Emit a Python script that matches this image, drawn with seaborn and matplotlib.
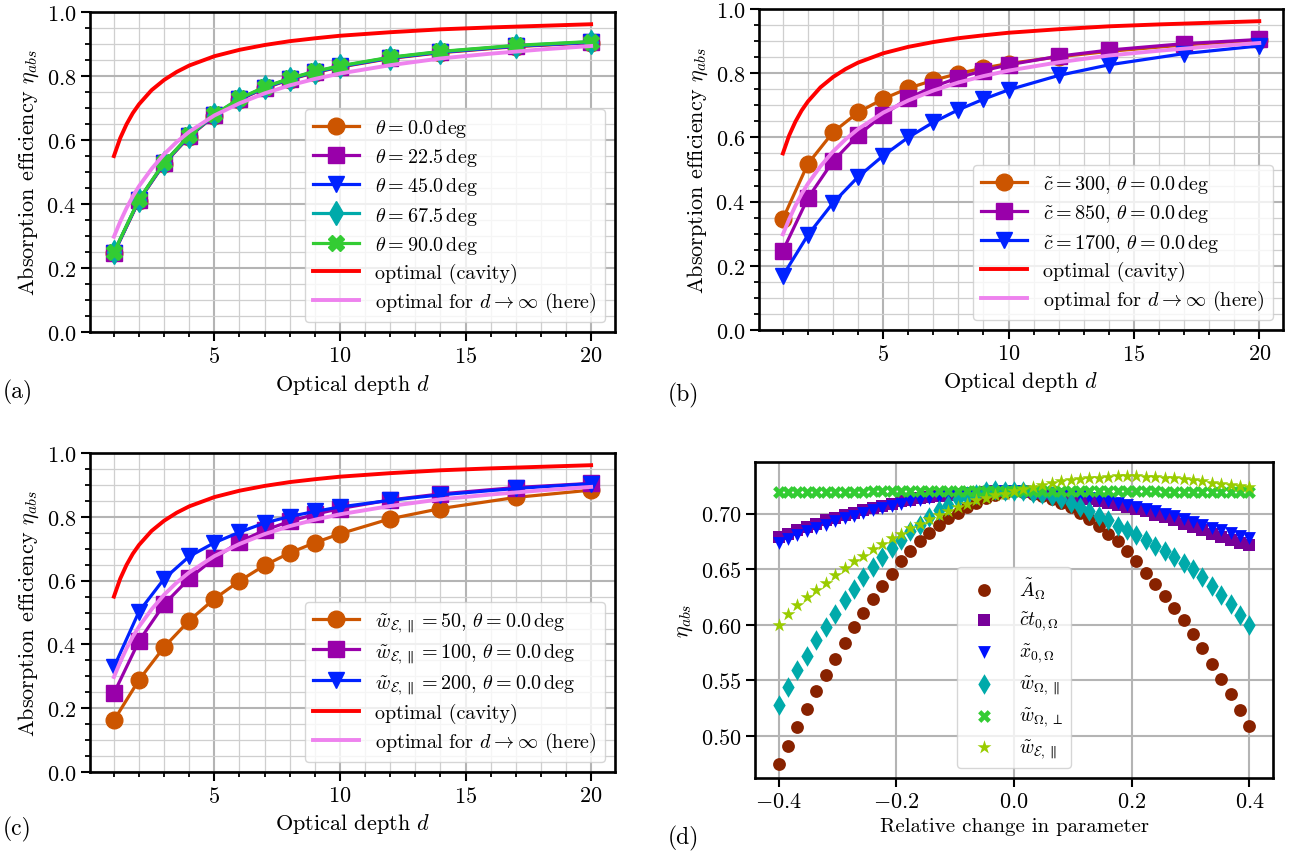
import numpy as np
import pandas as pd
import matplotlib
matplotlib.use('Agg')
import matplotlib.pyplot as plt
import seaborn as sns
from matplotlib.ticker import MultipleLocator


# optical depths of the simulated points (panels a-c)
d_pts = [1, 2, 3, 4, 5, 6, 7, 8, 9, 10, 12, 14, 17, 20]

# (a) different angles
eta_theta_0 = [0.246, 0.411, 0.526, 0.611, 0.676, 0.726, 0.762, 0.789, 0.811, 0.828, 0.855, 0.873, 0.892, 0.904]
eta_theta_22 = [0.247, 0.412, 0.527, 0.612, 0.677, 0.727, 0.763, 0.790, 0.812, 0.829, 0.856, 0.874, 0.893, 0.905]
eta_theta_45 = [0.248, 0.413, 0.528, 0.613, 0.678, 0.728, 0.764, 0.791, 0.813, 0.830, 0.857, 0.875, 0.894, 0.906]
eta_theta_67 = [0.249, 0.414, 0.529, 0.614, 0.679, 0.729, 0.765, 0.792, 0.814, 0.831, 0.858, 0.876, 0.895, 0.907]
eta_theta_90 = [0.250, 0.415, 0.530, 0.615, 0.680, 0.730, 0.766, 0.793, 0.815, 0.832, 0.859, 0.877, 0.896, 0.908]

# (b) different c
eta_c300 = [0.346, 0.518, 0.616, 0.678, 0.720, 0.753, 0.778, 0.799, 0.816, 0.830, 0.851, 0.868, 0.888, 0.903]
eta_c850 = [0.247, 0.411, 0.526, 0.607, 0.670, 0.722, 0.758, 0.786, 0.808, 0.826, 0.853, 0.872, 0.892, 0.905]
eta_c1700 = [0.169, 0.296, 0.396, 0.477, 0.543, 0.600, 0.647, 0.686, 0.719, 0.748, 0.793, 0.826, 0.861, 0.885]

# (c) different w_E
eta_w50 = [0.162, 0.289, 0.392, 0.475, 0.543, 0.599, 0.648, 0.687, 0.719, 0.747, 0.794, 0.826, 0.861, 0.884]
eta_w100 = [0.247, 0.411, 0.526, 0.607, 0.670, 0.722, 0.758, 0.786, 0.808, 0.826, 0.853, 0.872, 0.892, 0.905]
eta_w200 = [0.329, 0.503, 0.606, 0.676, 0.719, 0.752, 0.781, 0.801, 0.817, 0.831, 0.852, 0.869, 0.889, 0.904]

# optimal curves
d_fine = [1, 1.25, 1.5, 1.75, 2, 2.5, 3, 3.5, 4, 5, 6, 7, 8, 9, 10, 12, 14, 16, 18, 20]
eta_cavity = [0.550, 0.606, 0.649, 0.684, 0.712, 0.756, 0.788, 0.813, 0.833, 0.862, 0.882, 0.897,
              0.909, 0.918, 0.926, 0.937, 0.946, 0.952, 0.957, 0.962]
eta_inf = [0.298, 0.345, 0.387, 0.424, 0.456, 0.510, 0.556, 0.594, 0.626, 0.677, 0.715, 0.746,
           0.771, 0.791, 0.808, 0.834, 0.855, 0.870, 0.883, 0.894]

# (d) sensitivity to relative change of parameters
rel_change = [-0.400, -0.384, -0.368, -0.352, -0.336, -0.320, -0.304, -0.288, -0.272, -0.256,
              -0.240, -0.224, -0.208, -0.192, -0.176, -0.160, -0.144, -0.128, -0.112, -0.096,
              -0.080, -0.064, -0.048, -0.032, -0.016, 0.000, 0.016, 0.032, 0.048, 0.064,
              0.080, 0.096, 0.112, 0.128, 0.144, 0.160, 0.176, 0.192, 0.208, 0.224,
              0.240, 0.256, 0.272, 0.288, 0.304, 0.320, 0.336, 0.352, 0.368, 0.384, 0.400]
eta_A = [0.475, 0.491, 0.508, 0.524, 0.540, 0.555, 0.569, 0.584, 0.598, 0.611,
         0.623, 0.635, 0.646, 0.657, 0.666, 0.675, 0.683, 0.690, 0.696, 0.701,
         0.706, 0.710, 0.714, 0.717, 0.719, 0.720, 0.7195, 0.718, 0.716, 0.713,
         0.710, 0.706, 0.701, 0.695, 0.689, 0.682, 0.675, 0.666, 0.657, 0.647,
         0.637, 0.626, 0.615, 0.604, 0.592, 0.579, 0.565, 0.551, 0.538, 0.523, 0.509]
eta_ct = [0.679, 0.682, 0.685, 0.688, 0.691, 0.694, 0.696, 0.699, 0.701, 0.703,
          0.705, 0.707, 0.709, 0.711, 0.712, 0.714, 0.715, 0.716, 0.717, 0.718,
          0.7185, 0.719, 0.7195, 0.720, 0.720, 0.720, 0.720, 0.7195, 0.719, 0.718,
          0.717, 0.716, 0.7145, 0.713, 0.7115, 0.710, 0.708, 0.706, 0.704, 0.702,
          0.699, 0.697, 0.694, 0.691, 0.688, 0.685, 0.682, 0.679, 0.676, 0.674, 0.672]
eta_x0 = [0.674, 0.677, 0.681, 0.684, 0.687, 0.690, 0.693, 0.696, 0.698, 0.701,
          0.703, 0.705, 0.707, 0.709, 0.711, 0.712, 0.714, 0.715, 0.716, 0.717,
          0.718, 0.7185, 0.719, 0.7195, 0.720, 0.720, 0.720, 0.7195, 0.719, 0.7185,
          0.718, 0.717, 0.716, 0.7145, 0.713, 0.7115, 0.710, 0.708, 0.706, 0.704,
          0.702, 0.700, 0.6975, 0.695, 0.6925, 0.690, 0.6875, 0.685, 0.6825, 0.680, 0.678]
eta_wpar = [0.528, 0.544, 0.559, 0.572, 0.586, 0.598, 0.610, 0.622, 0.632, 0.643,
            0.652, 0.661, 0.669, 0.676, 0.684, 0.690, 0.697, 0.703, 0.708, 0.713,
            0.716, 0.718, 0.7205, 0.721, 0.7205, 0.720, 0.720, 0.719, 0.718, 0.716,
            0.713, 0.710, 0.706, 0.702, 0.698, 0.694, 0.689, 0.685, 0.681, 0.676,
            0.671, 0.666, 0.661, 0.656, 0.650, 0.643, 0.635, 0.627, 0.619, 0.609, 0.600]
eta_wperp = [0.7195, 0.7195, 0.7196, 0.7196, 0.7197, 0.7197, 0.7198, 0.7198, 0.7199, 0.7199,
             0.720, 0.720, 0.720, 0.720, 0.720, 0.720, 0.720, 0.720, 0.720, 0.720,
             0.720, 0.720, 0.720, 0.720, 0.720, 0.720, 0.720, 0.720, 0.720, 0.720,
             0.720, 0.720, 0.720, 0.720, 0.720, 0.720, 0.720, 0.720, 0.720, 0.720,
             0.720, 0.7199, 0.7199, 0.7198, 0.7198, 0.7197, 0.7197, 0.7196, 0.7196, 0.7195, 0.7195]
eta_wE = [0.600, 0.610, 0.618, 0.625, 0.631, 0.638, 0.645, 0.651, 0.657, 0.662,
          0.668, 0.673, 0.678, 0.682, 0.687, 0.691, 0.695, 0.699, 0.702, 0.706,
          0.709, 0.712, 0.714, 0.717, 0.718, 0.720, 0.722, 0.724, 0.726, 0.7275,
          0.729, 0.730, 0.731, 0.732, 0.7325, 0.733, 0.7335, 0.7335, 0.7335, 0.733,
          0.733, 0.7325, 0.732, 0.731, 0.730, 0.729, 0.728, 0.727, 0.726, 0.725, 0.724]

theta_labels = [r'$\theta = 0.0\,\mathrm{deg}$', r'$\theta = 22.5\,\mathrm{deg}$',
                r'$\theta = 45.0\,\mathrm{deg}$', r'$\theta = 67.5\,\mathrm{deg}$',
                r'$\theta = 90.0\,\mathrm{deg}$']
c_labels = [r'$\tilde{c} = 300$, $\theta = 0.0\,\mathrm{deg}$',
            r'$\tilde{c} = 850$, $\theta = 0.0\,\mathrm{deg}$',
            r'$\tilde{c} = 1700$, $\theta = 0.0\,\mathrm{deg}$']
w_labels = [r'$\tilde{w}_{\mathcal{E},\parallel} = 50$, $\theta = 0.0\,\mathrm{deg}$',
            r'$\tilde{w}_{\mathcal{E},\parallel} = 100$, $\theta = 0.0\,\mathrm{deg}$',
            r'$\tilde{w}_{\mathcal{E},\parallel} = 200$, $\theta = 0.0\,\mathrm{deg}$']
param_labels = [r'$\tilde{A}_\Omega$', r'$\tilde{c}t_{0,\Omega}$', r'$\tilde{x}_{0,\Omega}$',
                r'$\tilde{w}_{\Omega,\parallel}$', r'$\tilde{w}_{\Omega,\perp}$',
                r'$\tilde{w}_{\mathcal{E},\parallel}$']

plt.rcParams['font.family'] = 'serif'
plt.rcParams['font.serif'] = ['cmr10']
plt.rcParams['mathtext.fontset'] = 'cm'
plt.rcParams['axes.formatter.use_mathtext'] = True
plt.rcParams['font.size'] = 16
plt.rcParams['axes.linewidth'] = 1.9
plt.rcParams['xtick.major.width'] = 1.5
plt.rcParams['ytick.major.width'] = 1.5
plt.rcParams['xtick.minor.width'] = 1.3
plt.rcParams['ytick.minor.width'] = 1.3
plt.rcParams['xtick.major.size'] = 6.5
plt.rcParams['ytick.major.size'] = 6.5
plt.rcParams['xtick.minor.size'] = 3.5
plt.rcParams['ytick.minor.size'] = 3.5

orange, purple, blue, teal, green = '#cc5500', '#9900aa', '#0022ff', '#00aaaa', '#33cc33'
red, pink = '#ff0000', '#ee82ee'

fig = plt.figure(figsize=(12.92, 8.54), dpi=100)
ax_a = fig.add_axes([0.0697, 0.610, 0.4063, 0.3747])
ax_b = fig.add_axes([0.5875, 0.6124, 0.4056, 0.3759])
ax_c = fig.add_axes([0.0697, 0.0948, 0.4063, 0.3735])
ax_d = fig.add_axes([0.5844, 0.0878, 0.4009, 0.3700])


def depth_panel(ax, series, labels, colors, markers):
    for y, lab, col, mk in zip(series, labels, colors, markers):
        sns.lineplot(x=d_pts, y=y, ax=ax, color=col, marker=mk, markersize=12,
                     mec=col, mew=1, lw=2.3, label=lab)
    sns.lineplot(x=d_fine, y=eta_cavity, ax=ax, color=red, lw=2.8, label='optimal (cavity)')
    sns.lineplot(x=d_fine, y=eta_inf, ax=ax, color=pink, lw=2.8,
                 label=r'optimal for $d \to \infty$ (here)')
    ax.set_ylim(0, 1)
    ax.xaxis.set_major_locator(MultipleLocator(5))
    ax.xaxis.set_minor_locator(MultipleLocator(1))
    ax.yaxis.set_major_locator(MultipleLocator(0.2))
    ax.yaxis.set_minor_locator(MultipleLocator(0.05))
    ax.grid(which='major', color='#b4b4b4', lw=1.5)
    ax.grid(which='minor', color='#cfcfcf', lw=0.9)
    ax.set_xlabel(r'Optical depth $d$')
    ax.set_ylabel(r'Absorption efficiency $\eta_{abs}$')
    ax.legend(loc='lower right', fontsize=14.5, handlelength=2.3, labelspacing=0.35,
              framealpha=0.8)


depth_panel(ax_a, [eta_theta_0, eta_theta_22, eta_theta_45, eta_theta_67, eta_theta_90],
            theta_labels, [orange, purple, blue, teal, green], ['o', 's', 'v', 'd', 'X'])
depth_panel(ax_b, [eta_c300, eta_c850, eta_c1700], c_labels,
            [orange, purple, blue], ['o', 's', 'v'])
depth_panel(ax_c, [eta_w50, eta_w100, eta_w200], w_labels,
            [orange, purple, blue], ['o', 's', 'v'])

# (d) scatter of each parameter
d_series = [eta_A, eta_ct, eta_x0, eta_wpar, eta_wperp, eta_wE]
d_colors = ['#882200', '#770099', '#0011ff', '#00aaaa', '#33cc33', '#99cc00']
d_markers = ['o', 's', 'v', 'd', 'X', '*']
d_sizes = [85, 75, 85, 110, 85, 110]
for y, lab, col, mk, s in zip(d_series, param_labels, d_colors, d_markers, d_sizes):
    sns.scatterplot(x=rel_change, y=y, ax=ax_d, color=col, marker=mk, s=s,
                    linewidth=0, label=lab)
ax_d.grid(which='major', color='#b4b4b4', lw=1.5)
ax_d.set_axisbelow(True)
ax_d.set_xlabel('Relative change in parameter', fontsize=15)
ax_d.set_ylabel(r'$\eta_{abs}$')
ax_d.legend(loc='lower center', fontsize=14, labelspacing=0.45, framealpha=0.8)

# panel letters
fig.text(0.002, 1 - 392 / 854, '(a)', fontsize=17, va='center')
fig.text(0.517, 1 - 395 / 854, '(b)', fontsize=17, va='center')
fig.text(0.002, 1 - 829 / 854, '(c)', fontsize=17, va='center')
fig.text(0.517, 1 - 838 / 854, '(d)', fontsize=17, va='center')

fig.savefig('out.png', dpi=100)
